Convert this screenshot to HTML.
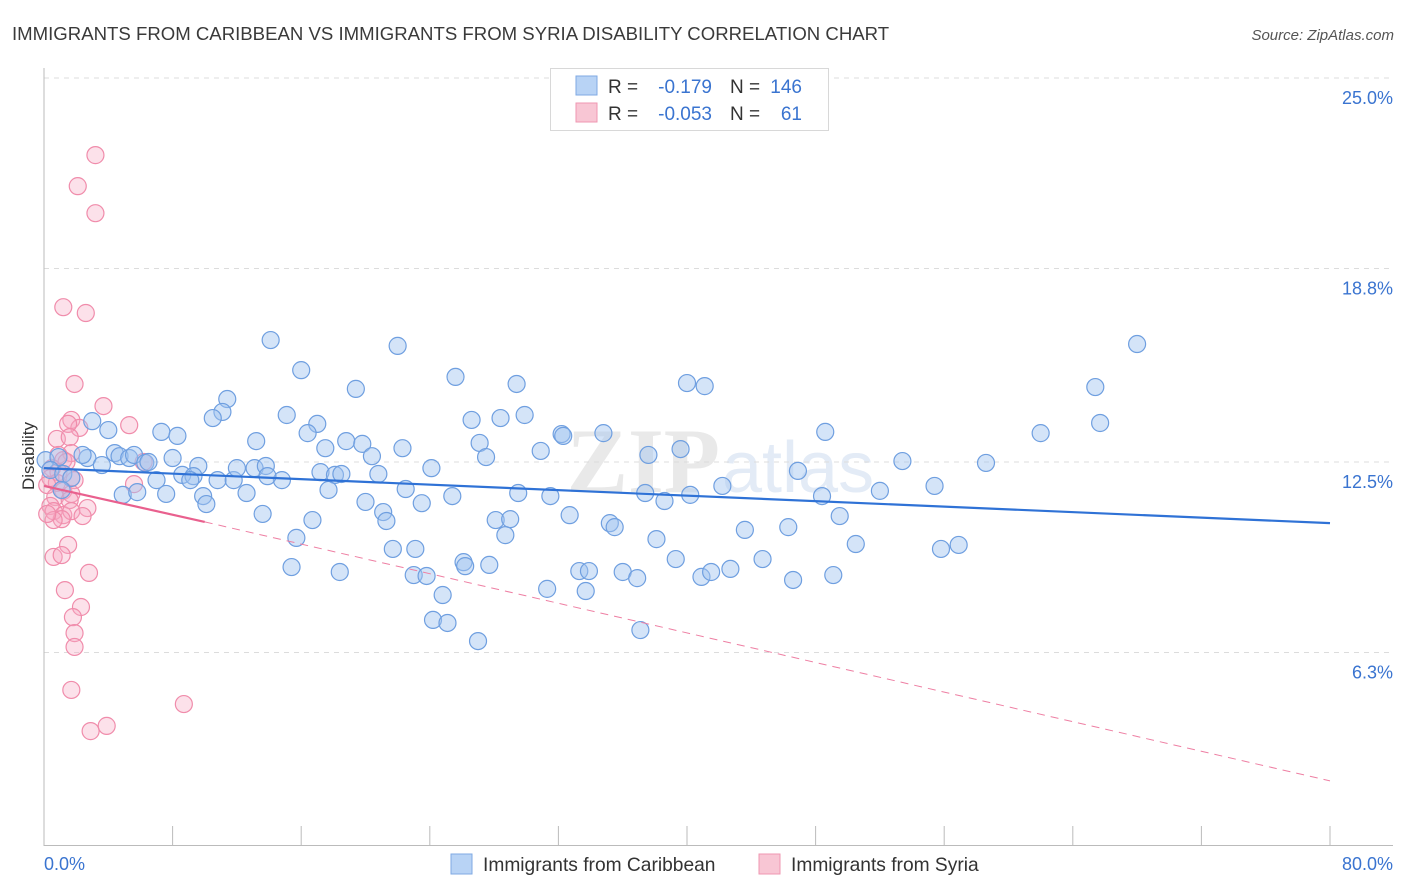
<!DOCTYPE html>
<html><head><meta charset="utf-8"><style>
body{margin:0;background:#fff;font-family:"Liberation Sans",sans-serif;}
#wrap{position:relative;width:1406px;height:892px;overflow:hidden;}
</style></head><body>
<div id="wrap">
<svg id="chart" width="1406" height="892" xmlns="http://www.w3.org/2000/svg">
<text x="12" y="40" font-size="18.6" fill="#3a3a3a">IMMIGRANTS FROM CARIBBEAN VS IMMIGRANTS FROM SYRIA DISABILITY CORRELATION CHART</text>
<text x="1394" y="40" font-size="15" fill="#555" font-style="italic" text-anchor="end">Source: ZipAtlas.com</text>
<text x="720" y="492" font-size="92" fill="#e9e9e9" text-anchor="end" font-family="Liberation Serif,serif" font-weight="bold">ZIP</text>
<text x="722" y="492" font-size="72" fill="#e3ebf6">atlas</text>
<g id="grid"></g>
<g id="axes"></g>
<g id="marks"></g>
<text transform="translate(34,456) rotate(-90)" font-size="17" fill="#333" text-anchor="middle">Disability</text>
<g>
<rect x="550.5" y="68.5" width="278" height="62" fill="#fff" stroke="#d8d8d8"/>
<rect x="576" y="76" width="21" height="19" fill="#b8d3f5" stroke="#7fa9e3"/>
<rect x="576" y="103" width="21" height="19" fill="#f8c6d4" stroke="#ef97b2"/>
<text x="608" y="93" font-size="19" fill="#333">R = </text><text x="712" y="93" font-size="19" fill="#3a74d0" text-anchor="end">-0.179</text>
<text x="730" y="93" font-size="19" fill="#333">N =</text><text x="802" y="93" font-size="19" fill="#3a74d0" text-anchor="end">146</text>
<text x="608" y="120" font-size="19" fill="#333">R = </text><text x="712" y="120" font-size="19" fill="#3a74d0" text-anchor="end">-0.053</text>
<text x="730" y="120" font-size="19" fill="#333">N =</text><text x="802" y="120" font-size="19" fill="#3a74d0" text-anchor="end">61</text>
</g>
<g>
<rect x="451" y="854" width="21" height="20" fill="#b8d3f5" stroke="#7fa9e3"/>
<text x="483" y="871" font-size="19.2" fill="#333">Immigrants from Caribbean</text>
<rect x="759" y="854" width="21" height="20" fill="#f8c6d4" stroke="#ef97b2"/>
<text x="791" y="871" font-size="19.2" fill="#333">Immigrants from Syria</text>
</g>
</svg>
</div>
<script>
const blueX=[14.1,22.0,16.0,25.6,19.4,29.4,40.0,41.1,68.0,65.4,11.4,11.1,10.5,15.1,17.0,16.4,26.6,28.4,29.9,65.7,62.0,3.0,4.0,7.3,8.3,13.2,18.8,19.8,27.1,22.3,17.5,32.2,32.3,34.8,48.6,39.6,37.6,30.9,27.5,20.4,0.1,0.9,2.7,2.4,3.6,4.4,4.7,5.3,5.6,6.3,6.5,8.0,9.6,8.6,9.3,9.1,10.8,11.8,12.0,13.1,13.8,14.8,13.9,17.2,18.1,18.5,20.8,24.1,53.4,58.6,46.9,0.4,1.2,1.7,1.1,7.0,4.9,5.8,7.6,9.9,10.1,12.6,17.7,20.0,22.5,23.5,25.4,29.5,31.5,37.4,40.2,38.6,42.2,48.4,52.0,55.4,13.6,16.7,21.1,21.3,28.1,29.0,32.7,35.2,35.5,43.6,46.3,49.5,15.7,21.7,23.1,28.7,38.1,50.5,55.8,56.9,26.1,39.3,44.7,15.4,18.4,23.0,23.8,26.2,27.7,33.3,33.9,36.0,36.9,40.9,41.5,42.7,46.6,49.1,31.3,33.7,24.8,24.2,25.1,37.1,27.0];
const blueY=[16.47,16.28,15.49,15.27,14.88,15.04,15.07,14.97,16.34,14.94,14.55,14.13,13.93,14.03,13.74,13.44,13.87,13.93,14.03,13.77,13.44,13.83,13.54,13.48,13.35,13.18,13.18,13.09,13.12,12.95,12.95,13.41,13.35,13.44,13.48,12.92,12.73,12.86,12.66,12.69,12.56,12.66,12.63,12.73,12.40,12.79,12.69,12.63,12.73,12.47,12.50,12.63,12.37,12.08,12.04,11.91,11.91,11.91,12.30,12.30,12.37,11.91,12.04,12.17,12.08,12.11,12.11,12.30,12.53,12.47,12.21,12.24,12.11,11.98,11.59,11.91,11.43,11.52,11.46,11.39,11.13,11.49,11.59,11.20,11.62,11.16,11.39,11.49,11.39,11.49,11.43,11.23,11.72,11.39,11.56,11.72,10.81,10.61,10.87,10.58,10.61,10.64,10.77,10.51,10.38,10.29,10.38,10.74,10.03,9.67,9.67,10.12,9.99,9.83,9.67,9.80,9.24,9.34,9.34,9.08,8.92,8.82,8.79,9.11,9.15,8.95,8.95,8.92,8.72,8.76,8.92,9.02,8.66,8.82,8.37,8.30,8.17,7.36,7.26,7.03,6.67];
const pinkX=[3.2,2.1,3.2,1.2,2.6,1.9,3.7,1.7,2.2,1.5,0.8,1.6,1.7,0.9,1.2,1.4,0.5,0.9,1.7,1.9,5.3,0.4,0.8,0.2,1.2,1.7,0.7,1.6,2.7,0.4,0.6,1.2,1.7,1.1,0.6,0.2,2.4,5.6,6.2,1.5,0.6,1.1,2.8,1.3,2.3,1.8,1.9,1.9,1.7,8.7,2.9,3.9];
const pinkY=[22.49,21.48,20.60,17.54,17.35,15.04,14.32,13.87,13.61,13.74,13.25,13.31,12.79,12.73,12.56,12.50,12.30,12.17,11.98,11.91,13.70,11.98,11.82,11.75,11.56,11.46,11.36,11.26,11.00,11.07,10.90,10.77,10.90,10.64,10.61,10.81,10.74,11.78,12.50,9.80,9.41,9.47,8.89,8.33,7.78,7.45,6.93,6.48,5.08,4.62,3.74,3.91];
const blueTrend=[12.30,10.51];
const pinkTrend=[11.72,10.55,2.12];
const yTicks=[6.3,12.5,18.8,25.0];
const yTickLabels=["6.3%","12.5%","18.8%","25.0%"];
const xTickVals=[0,8,16,24,32,40,48,56,64,72,80];
const xEndLabels=["0.0%","80.0%"];

const NS="http://www.w3.org/2000/svg";
const X=v=>44+v*16.075;
const Y=v=>846-v*30.72;
function mk(tag,attrs,parent){const e=document.createElementNS(NS,tag);for(const k in attrs)e.setAttribute(k,attrs[k]);parent.appendChild(e);return e;}
const grid=document.getElementById('grid'),axes=document.getElementById('axes'),marks=document.getElementById('marks');
yTicks.forEach((t,i)=>{
 const l=mk('line',{x1:44,x2:1393,y1:Y(t),y2:Y(t),stroke:'#dcdcdc','stroke-dasharray':'5,5'},grid);
 
 
 const tx=mk('text',{x:1393,y:Y(t)+26,'font-size':18,fill:'#3a74d0','text-anchor':'end'},axes);
 tx.textContent=yTickLabels[i];
 
 
});
let a=mk('line',{x1:44,x2:44,y1:68,y2:846,stroke:'#bbb'},axes);


a=mk('line',{x1:44,x2:1393,y1:845.5,y2:845.5,stroke:'#bbb'},axes);


xTickVals.forEach(v=>{const t=mk('line',{x1:X(v),x2:X(v),y1:826,y2:846,stroke:'#bbb'},axes);
 
 });
let t0=mk('text',{x:44,y:870,'font-size':18,fill:'#3a74d0'},axes);t0.textContent=xEndLabels[0];


t0=mk('text',{x:1393,y:870,'font-size':18,fill:'#3a74d0','text-anchor':'end'},axes);t0.textContent=xEndLabels[1];


pinkX.forEach((x,i)=>{const c=mk('circle',{cx:X(x),cy:Y(pinkY[i]),r:8.5,fill:'rgba(246,168,194,0.35)',stroke:'#f08cab','stroke-width':1.2},marks);
 
 });
blueX.forEach((x,i)=>{const c=mk('circle',{cx:X(x),cy:Y(blueY[i]),r:8.5,fill:'rgba(160,196,240,0.45)',stroke:'#6f9fe0','stroke-width':1.2},marks);
 
 });
let l=mk('line',{x1:X(0),y1:Y(blueTrend[0]),x2:X(80),y2:Y(blueTrend[1]),stroke:'#2f72d6','stroke-width':2.2},marks);


l=mk('line',{x1:X(10),y1:Y(pinkTrend[1]),x2:X(80),y2:Y(pinkTrend[2]),stroke:'#ee7fa3','stroke-width':1,'stroke-dasharray':'8,6'},marks);


l=mk('line',{x1:X(0),y1:Y(pinkTrend[0]),x2:X(10),y2:Y(pinkTrend[1]),stroke:'#e9608e','stroke-width':2.2},marks);


</script>
</body></html>
